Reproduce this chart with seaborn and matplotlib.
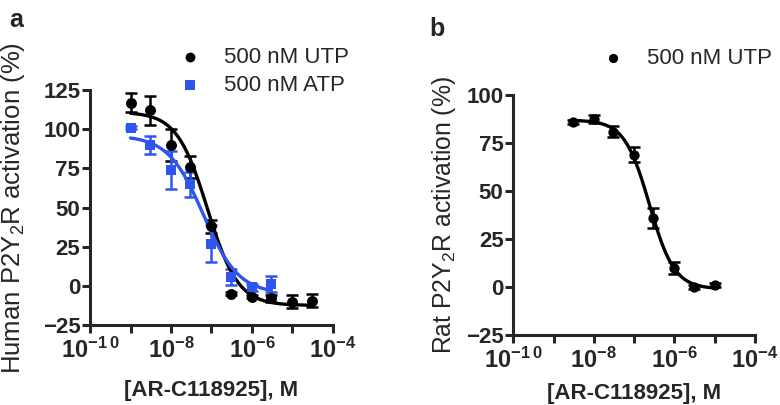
import numpy as np
import pandas as pd
import matplotlib
matplotlib.use("Agg")
import matplotlib.pyplot as plt
import matplotlib.ticker as mticker
import seaborn as sns

# panel a: human P2Y2R, mean +/- sem
conc_a = [1e-9, 3e-9, 1e-8, 3e-8, 1e-7, 3e-7, 1e-6, 3e-6, 1e-5, 3e-5]
utp_a = [117, 112, 90, 76, 38, -5, -7, -8, -10, -9.5]
utp_a_err = [6, 9, 10, 7, 4, 1, 1, 2, 4, 4]
conc_atp = [1e-9, 3e-9, 1e-8, 3e-8, 1e-7, 3e-7, 1e-6, 3e-6]
atp_a = [101, 90, 74, 65, 27, 5.5, -1, 1]
atp_a_err = [1, 6, 12, 8, 12, 5, 2, 5]

# panel b: rat P2Y2R
conc_b = [3e-9, 1e-8, 3e-8, 1e-7, 3e-7, 1e-6, 3e-6, 1e-5]
utp_b = [86, 87.5, 81, 69, 36, 10, 0, 1]
utp_b_err = [1, 2, 3, 4, 5, 3, 1, 1]

# fitted 4-parameter logistic curves (top, bottom, logIC50, hill)
fit_utp_a = (111, -12.5, -7.1, 1.15)
fit_atp_a = (96, -5, -7.2, 1.0)
fit_utp_b = (87, -1, -6.62, 1.4)

BLUE = "#2e55f0"

sns.set_style("ticks")
plt.rcParams["font.family"] = ["Liberation Sans", "DejaVu Sans"]
plt.rcParams["mathtext.fontset"] = "custom"
plt.rcParams["mathtext.rm"] = "Liberation Sans"
plt.rcParams["mathtext.bf"] = "Liberation Sans:bold"
plt.rcParams["mathtext.default"] = "regular"


def logistic(x, top, bottom, logic50, hill):
    return bottom + (top - bottom) / (1 + 10 ** ((np.log10(x) - logic50) * hill))


def fit_frame(xmin, xmax, params):
    xs = np.logspace(np.log10(xmin), np.log10(xmax), 200)
    return pd.DataFrame({"x": xs, "y": logistic(xs, *params)})


def xfmt(v, pos):
    e = int(round(np.log10(v)))
    if e == -10:
        return r"$\mathbf{10}^{\mathbf{-1\,0}}$"
    return r"$\mathbf{10}^{\mathbf{%d}}$" % e


def style_axis(ax, ymin, ymax):
    ax.set_xscale("log")
    ax.set_xlim(1e-10, 1e-4)
    ax.set_ylim(ymin, ymax)
    ax.xaxis.set_major_locator(mticker.FixedLocator([1e-10, 1e-8, 1e-6, 1e-4]))
    ax.xaxis.set_minor_locator(mticker.FixedLocator([1e-9, 1e-7, 1e-5]))
    ax.xaxis.set_minor_formatter(mticker.NullFormatter())
    ax.xaxis.set_major_formatter(mticker.FuncFormatter(xfmt))
    ax.yaxis.set_major_locator(mticker.MultipleLocator(25))
    for s in ["top", "right"]:
        ax.spines[s].set_visible(False)
    for s in ["left", "bottom"]:
        ax.spines[s].set_linewidth(2.2)
    ax.tick_params(which="both", width=2.2, length=6)
    ax.tick_params(axis="x", labelsize=17, pad=3)
    ax.tick_params(axis="y", labelsize=16, pad=1)
    for lab in ax.get_yticklabels():
        lab.set_fontweight("bold")


def draw_series(ax, conc, vals, errs, params, color, marker, label, size):
    ax.errorbar(conc, vals, yerr=errs, fmt="none", ecolor=color,
                elinewidth=1.8, capsize=4, capthick=1.8, zorder=2)
    df = fit_frame(conc[0], conc[-1], params)
    sns.lineplot(data=df, x="x", y="y", ax=ax, color=color, lw=2.4, zorder=3)
    sns.scatterplot(x=conc, y=vals, ax=ax, color=color, marker=marker, s=size,
                    edgecolor=color, linewidth=0, label=label, zorder=4)


fig = plt.figure(figsize=(7.8, 4.05), dpi=100)
ax_a = fig.add_axes([0.1154, 0.1975, 0.3115, 0.58])
ax_b = fig.add_axes([0.658, 0.173, 0.310, 0.592])

draw_series(ax_a, conc_a, utp_a, utp_a_err, fit_utp_a, "black", "o", "500 nM UTP", 62)
draw_series(ax_a, conc_atp, atp_a, atp_a_err, fit_atp_a, BLUE, "s", "500 nM ATP", 55)
draw_series(ax_b, conc_b, utp_b, utp_b_err, fit_utp_b, "black", "o", "500 nM UTP", 55)

style_axis(ax_a, -25, 125)
style_axis(ax_b, -25, 100)

ax_a.set_ylabel("Human P2Y$_2$R activation (%)", fontsize=18.5)
ax_b.set_ylabel("Rat P2Y$_2$R activation (%)", fontsize=17.8)
ax_a.yaxis.set_label_coords(-0.26, 0.5)
ax_b.yaxis.set_label_coords(-0.23, 0.5)
for ax, ly in [(ax_a, -0.234), (ax_b, -0.2)]:
    ax.set_xlabel("[AR-C118925], M", fontsize=16, fontweight="bold")
    ax.xaxis.set_label_coords(0.5, ly)

ax_a.legend(loc="upper left", bbox_to_anchor=(168 / 780, 1 - 47 / 405),
            bbox_transform=fig.transFigure, frameon=False, fontsize=16,
            markerscale=0.9, handletextpad=0.5, labelspacing=0.3,
            borderaxespad=0, borderpad=0)
ax_b.legend(loc="upper left", bbox_to_anchor=(591 / 780, 1 - 48 / 405),
            bbox_transform=fig.transFigure, frameon=False, fontsize=16,
            markerscale=0.9, handletextpad=0.5, borderaxespad=0, borderpad=0)

fig.text(16 / 780, 1 - 20 / 405, "a", fontsize=18, fontweight="bold", va="center", ha="center")
fig.text(437 / 780, 1 - 29 / 405, "b", fontsize=18, fontweight="bold", va="center", ha="center")

fig.savefig("out.png", dpi=100)
